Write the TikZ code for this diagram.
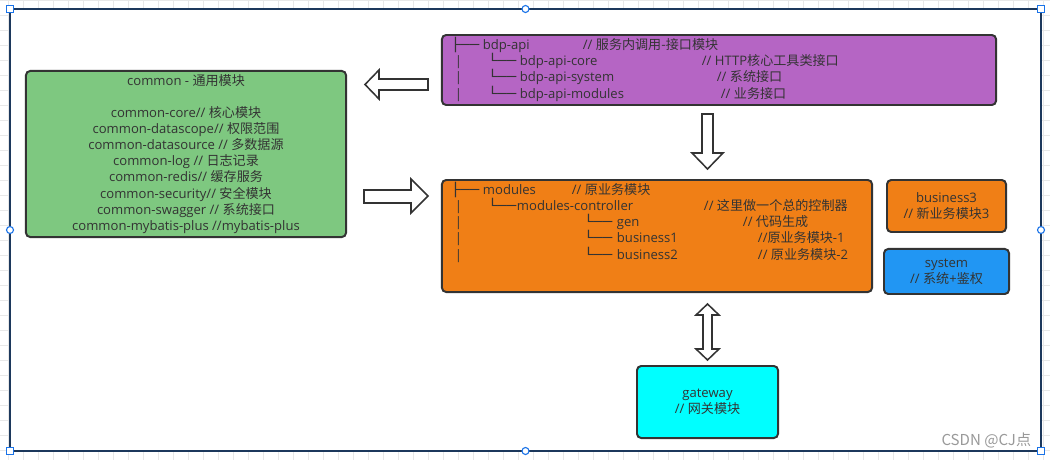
\documentclass[tikz,border=0pt]{standalone}
\usepackage{fontspec}
\usepackage{graphicx}
\usepackage{tikz}
\usetikzlibrary{positioning}
\setmainfont{Open Sans}
\newfontfamily\zh{Noto Sans CJK SC}
\newfontfamily\boxch{DejaVu Sans}
\definecolor{edgecol}{RGB}{51,51,51}
\definecolor{txtcol}{RGB}{51,51,51}
\definecolor{cgreen}{RGB}{126,200,128}
\definecolor{cpurple}{RGB}{181,101,196}
\definecolor{corange}{RGB}{240,127,22}
\definecolor{cblue}{RGB}{33,150,243}
\definecolor{ccyan}{RGB}{0,255,255}
\definecolor{framecol}{RGB}{28,56,92}
\definecolor{handlecol}{RGB}{26,115,232}
\definecolor{gridcol}{RGB}{232,232,232}
\newlength\pxu
\setlength\pxu{0.025cm}
\newcommand\at[2]{\makebox[0pt][l]{\hspace*{#1\pxu}#2}}
\newcommand\br[1]{{\boxch\scalebox{1.2}[1]{#1}}}
\tikzset{
  modbox/.style={draw=edgecol, line width=1.4pt, rounded corners=3pt, text=txtcol,
    inner sep=0pt, align=center, font=\fontsize{9.3pt}{11.4pt}\selectfont},
  tree/.style={inner sep=0pt, align=left, text=txtcol, font=\fontsize{9.3pt}{11.4pt}\selectfont},
  fatarrow/.style={draw=edgecol, fill=white, line width=1.1pt, line join=miter},
  gridline/.style={gridcol, line width=0.5pt},
  handle/.style={draw=handlecol, fill=white, line width=0.8pt}
}

\begin{document}
\begin{tikzpicture}[x=0.025cm, y=-0.025cm]
  \useasboundingbox (0,0) rectangle (1050,460);
  % canvas grid and selection frame
  \foreach \x in {8,23,...,1050} \draw[gridline] (\x,0) -- (\x,460);
  \foreach \y in {0,15,...,460} \draw[gridline] (0,\y) -- (1050,\y);
  \fill[white] (10,9) rectangle (1041,451);
  \draw[framecol, line width=1.4pt] (10,9) rectangle (1041,451);

  % modules
  \node[modbox, fill=cgreen, minimum width=8cm, minimum height=4.15cm] (common) at (186,154)
    {common - {\zh 通用模块}\\[11.4pt]
     common-core// {\zh 核心模块}\\
     common-datascope// {\zh 权限范围}\\
     common-datasource // {\zh 多数据源}\\
     common-log // {\zh 日志记录}\\
     common-redis// {\zh 缓存服务}\\
     common-security// {\zh 安全模块}\\
     common-swagger // {\zh 系统接口}\\
     common-mybatis-plus //mybatis-plus};
  \node[modbox, fill=cpurple, minimum width=13.85cm, minimum height=1.75cm] (api) at (719,70) {};
  \node[tree, anchor=base west] (apiTree) at ([shift={(9,64)}]api.north west)
    {\at{0}{\br{├──}}\at{32}{bdp-api}\at{132}{// \zh 服务内调用-接口模块}\\
     \at{4}{|}\at{37}{\br{└──}}\at{69}{bdp-api-core}\at{251}{// HTTP\zh 核心工具类接口}\\
     \at{4}{|}\at{37}{\br{└──}}\at{69}{bdp-api-system}\at{266}{// \zh 系统接口}\\
     \at{4}{|}\at{37}{\br{└──}}\at{69}{bdp-api-modules}\at{270}{// \zh 业务接口}};
  \node[modbox, fill=corange, minimum width=10.75cm, minimum height=2.8cm] (modules) at (657,236) {};
  \node[tree, anchor=base west] (modTree) at ([shift={(9,80)}]modules.north west)
    {\at{0}{\br{├──}}\at{32}{modules}\at{121}{// \zh 原业务模块}\\
     \at{4}{|}\at{37}{\br{└──}}\at{66}{modules-controller}\at{253}{// \zh 这里做一个总的控制器}\\
     \at{4}{|}\at{133}{\br{└──}}\at{166}{gen}\at{292}{// \zh 代码生成}\\
     \at{4}{|}\at{133}{\br{└──}}\at{166}{business1}\at{307}{//{\zh 原业务模块}-1}\\
     \at{4}{|}\at{133}{\br{└──}}\at{166}{business2}\at{307}{// {\zh 原业务模块}-2}};
  \node[modbox, fill=corange, minimum width=2.975cm, minimum height=1.3cm] (biz3) at (946.5,206)
    {business3\\// {\zh 新业务模块}3};
  \node[modbox, fill=cblue, minimum width=3.125cm, minimum height=1.125cm, below=0.375cm of biz3] (system)
    {system\\// {\zh 系统}+{\zh 鉴权}};
  \node[modbox, fill=ccyan, minimum width=3.525cm, minimum height=1.8cm] (gateway) at (707.5,402)
    {gateway\\// {\zh 网关模块}};

  % block arrows
  \draw[fatarrow] (365,84.5) -- (379,70) -- (379,79) -- (428,79) -- (428,90) -- (379,90) -- (379,99) -- cycle;
  \draw[fatarrow] (428,196) -- (411,179) -- (411,190) -- (364,190) -- (364,203) -- (411,203) -- (411,213) -- cycle;
  \draw[fatarrow] (707.5,169) -- (692,153) -- (702,153) -- (702,114) -- (713,114) -- (713,153) -- (723,153) -- cycle;
  \draw[fatarrow] (707.5,304) -- (719,315) -- (712,315) -- (712,349) -- (719,349) -- (707.5,360)
    -- (696,349) -- (703,349) -- (703,315) -- (696,315) -- cycle;

  % selection handles
  \foreach \p in {(10,9),(1041,9),(10,451),(1041,451)}
    \draw[handle] \p ++(-3.5,-3.5) rectangle ++(7,7);
  \foreach \p in {(525.5,9),(10,230),(1041,230),(525.5,451)}
    \draw[handle] \p circle (3.5);

  \node[anchor=east, text=black!40, font=\zh\fontsize{10.7pt}{12pt}\selectfont] (mark) at (1036,440) {CSDN @CJ点};
\end{tikzpicture}
\end{document}
